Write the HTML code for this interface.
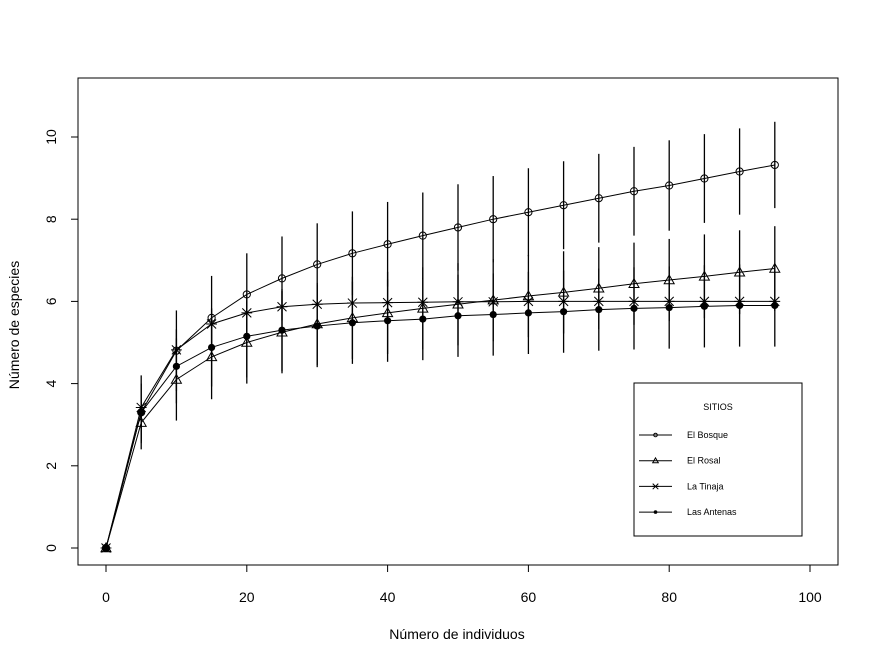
<!DOCTYPE html>
<html><head><meta charset="utf-8"><style>
body{margin:0;background:#fff}
svg text{font-family:"Liberation Sans",Arial,sans-serif;fill:#000}
</style></head><body>
<svg id="chart" width="879" height="664" xmlns="http://www.w3.org/2000/svg">
<rect x="0" y="0" width="879" height="664" fill="#fff"/>
<rect x="78" y="78" width="760" height="487" fill="none" stroke="#000"/>
<g id="axes"></g>
<g id="bars"></g>
<g id="lines"></g>
<g id="pts"></g>
<text x="457" y="639" text-anchor="middle" font-size="14">Número de individuos</text>
<text transform="translate(19,325) rotate(-90)" text-anchor="middle" font-size="14">Número de especies</text>
<g>
<rect x="634" y="383" width="168" height="153" fill="#fff" stroke="#000"/>
<text x="718" y="410" text-anchor="middle" font-size="9">SITIOS</text>
<g id="legend-items"></g>
</g>
</svg>
<script>
const xs=[0,5,10,15,20,25,30,35,40,45,50,55,60,65,70,75,80,85,90,95];
const bosque=[0,3.3,4.8,5.6,6.17,6.56,6.9,7.17,7.39,7.6,7.8,8.0,8.17,8.34,8.51,8.68,8.82,8.99,9.16,9.32];
const rosal=[0,3.05,4.1,4.65,5.0,5.25,5.45,5.6,5.72,5.83,5.93,6.03,6.13,6.22,6.32,6.43,6.52,6.61,6.71,6.8];
const tinaja=[0,3.42,4.82,5.45,5.72,5.87,5.93,5.96,5.97,5.98,5.99,5.99,6.0,6.0,6.0,6.0,6.0,6.0,6.0,6.0];
const antenas=[0,3.3,4.42,4.88,5.15,5.3,5.4,5.48,5.53,5.57,5.65,5.68,5.72,5.75,5.8,5.83,5.85,5.88,5.9,5.9];
const sdBosque=[0,0.9,0.98,1.02,1.0,1.02,1.0,1.02,1.03,1.05,1.05,1.05,1.07,1.07,1.08,1.08,1.1,1.08,1.05,1.05];
const sdRosal=[0,0.5,1.0,1.03,1.0,1.0,1.0,1.0,1.0,1.0,1.0,1.0,1.0,1.0,1.0,1.0,1.0,1.02,1.02,1.03];
const sdAntenas=[0,0.7,0.9,0.95,1.0,1.0,1.0,1.0,1.0,1.0,1.0,1.0,1.0,1.0,1.0,1.0,1.0,1.0,1.0,1.0];
const xTicks=[0,20,40,60,80,100];
const yTicks=[0,2,4,6,8,10];
const X=v=>106+v*7.04, Y=v=>548-v*41.1;
const NS="http://www.w3.org/2000/svg";
function mk(p,t,a){const e=document.createElementNS(NS,t);for(const k in a)e.setAttribute(k,a[k]);document.getElementById(p).appendChild(e);return e;}
xTicks.forEach(t=>{const l=mk('axes','line',{x1:X(t),x2:X(t),y1:565,y2:572,stroke:'#000'});


const tx=mk('axes','text',{x:X(t),y:602,'text-anchor':'middle','font-size':14});tx.textContent=t;

});
yTicks.forEach(t=>{const l=mk('axes','line',{x1:71,x2:78,y1:Y(t),y2:Y(t),stroke:'#000'});


const tx=mk('axes','text',{transform:`translate(56,${Y(t)}) rotate(-90)`,'text-anchor':'middle','font-size':14});tx.textContent=t;

});
[[bosque,sdBosque],[rosal,sdRosal],[antenas,sdAntenas]].forEach(([m,s])=>xs.forEach((x,i)=>{if(!s[i])return;
const b=mk('bars','line',{x1:X(x),x2:X(x),y1:Y(m[i]-s[i]),y2:Y(m[i]+s[i]),stroke:'#000','stroke-width':1.3});

}));
function marker(g,type,cx,cy,r){let e;
if(type==='circle')e=mk(g,'circle',{cx,cy,r:r||3.6,fill:'none',stroke:'#000'});
else if(type==='tri'){const s=r||5;e=mk(g,'polygon',{points:`${cx},${cy-s} ${cx-s},${cy+s*0.75} ${cx+s},${cy+s*0.75}`,fill:'none',stroke:'#000'});}
else if(type==='star'){const s=r||4.5;e=mk(g,'path',{d:`M${cx-s},${cy-s}L${cx+s},${cy+s}M${cx-s},${cy+s}L${cx+s},${cy-s}M${cx-s*1.2},${cy}L${cx+s*1.2},${cy}`,stroke:'#000'});}
else e=mk(g,'circle',{cx,cy,r:r||3.6,fill:'#000'});
return e;}
const series=[['el-bosque','El Bosque',bosque,'circle'],['el-rosal','El Rosal',rosal,'tri'],['la-tinaja','La Tinaja',tinaja,'star'],['las-antenas','Las Antenas',antenas,'dot']];
series.forEach(([id,name,d,t],k)=>{
const p=mk('lines','polyline',{points:xs.map((x,i)=>X(x)+','+Y(d[i])).join(' '),fill:'none',stroke:'#000'});


xs.forEach((x,i)=>{const m=marker('pts',t,X(x),Y(d[i]));

});
const ly=435+k*25.7;
const ll=mk('legend-items','line',{x1:639,x2:672,y1:ly,y2:ly,stroke:'#000'});


const lm=marker('legend-items',t,655.5,ly,t==='dot'||t==='circle'?1.8:2.8);


const lt=mk('legend-items','text',{x:687,y:ly+3,'font-size':9});lt.textContent=name;

});
</script>
</body></html>
